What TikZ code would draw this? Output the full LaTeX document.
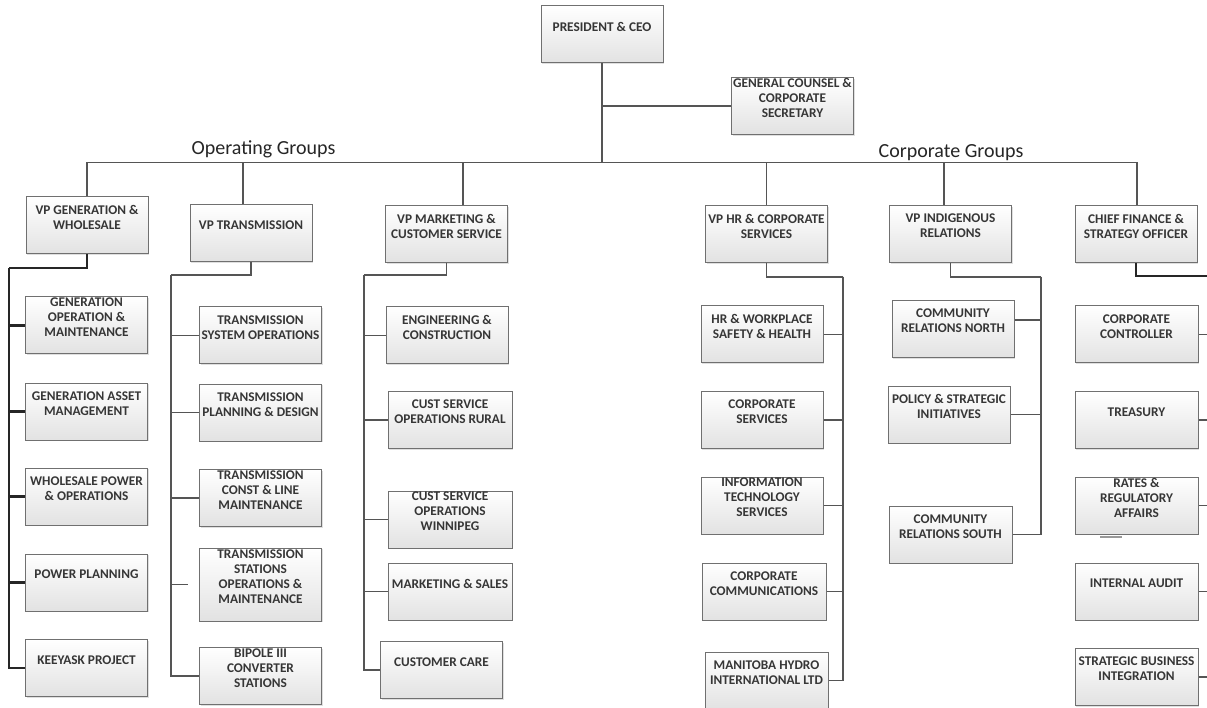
\documentclass[tikz,border=0pt]{standalone}
\usepackage{fontspec}
\setmainfont{Carlito}
\usetikzlibrary{shadows}

\definecolor{unitline}{HTML}{707070}
\definecolor{unitfill}{HTML}{E2E2E2}
\definecolor{unitink}{HTML}{363636}
\definecolor{wirecolor}{HTML}{555555}

\begin{document}
\begin{tikzpicture}[x=1pt, y=-1pt,
    wire/.style={draw=wirecolor, line width=1.5pt},
    heavywire/.style={draw=black!85, line width=2.2pt},
    unit/.style={draw=unitline, line width=1pt, top color=white, bottom color=unitfill,
        minimum width=122pt, minimum height=57pt, inner sep=0pt,
        drop shadow={shadow xshift=1.2pt, shadow yshift=-1.2pt, opacity=0.25},
        label={[unittext]center:{#1}}},
    unittext/.style={font=\bfseries\fontsize{13.3}{15}\selectfont, text=unitink,
        align=center, yshift=8pt, inner sep=0pt},
    group/.style={font=\fontsize{20}{23}\selectfont, text=black!85, anchor=base}]

    \fill[white] (0,0) rectangle (1207,708);
    \useasboundingbox (0,0) rectangle (1207,708);

    % top
    \node[unit={PRESIDENT \& CEO}]                              (ceo)   at (602,34.5)    {};
    \node[unit={GENERAL COUNSEL \&\\CORPORATE\\SECRETARY}]     (gc)    at (792.5,106)   {};
    \node[group] (opg) at (263.5,155) {Operating Groups};
    \node[group] (cpg) at (951,158)   {Corporate Groups};

    % vice presidents
    \node[unit={VP GENERATION \&\\WHOLESALE}]                  (vpgen) at (87,225.5)    {};
    \node[unit={VP TRANSMISSION}]                              (vptra) at (251,233)     {};
    \node[unit={VP MARKETING \&\\CUSTOMER SERVICE}]            (vpmkt) at (446.5,234)   {};
    \node[unit={VP HR \& CORPORATE\\SERVICES}]                 (vphr)  at (766.5,234)   {};
    \node[unit={VP INDIGENOUS\\RELATIONS}]                     (vpind) at (950.5,234)   {};
    \node[unit={CHIEF FINANCE \&\\STRATEGY OFFICER}]           (cfo)   at (1136,234)    {};

    % generation & wholesale
    \node[unit={GENERATION\\OPERATION \&\\MAINTENANCE}]        (gop)   at (86.5,325.5)  {};
    \node[unit={GENERATION ASSET\\MANAGEMENT}]                 (gam)   at (86.5,411.5)  {};
    \node[unit={WHOLESALE POWER\\\& OPERATIONS}]               (wpo)   at (86.5,496.5)  {};
    \node[unit={POWER PLANNING}]                               (pp)    at (86.5,582.5)  {};
    \node[unit={KEEYASK PROJECT}]                              (kp)    at (86.5,668)    {};

    % transmission
    \node[unit={TRANSMISSION\\SYSTEM OPERATIONS}]              (tso)   at (260.5,335.5) {};
    \node[unit={TRANSMISSION\\PLANNING \& DESIGN}]             (tpd)   at (260.5,412.5) {};
    \node[unit={TRANSMISSION\\CONST \& LINE\\MAINTENANCE}]     (tcl)   at (260.5,498)   {};
    \node[unit={TRANSMISSION\\STATIONS\\OPERATIONS \&\\MAINTENANCE},
          minimum height=73pt]                                 (tst)   at (260.5,584.5) {};
    \node[unit={BIPOLE III\\CONVERTER\\STATIONS}]              (bip)   at (260.5,676)   {};

    % marketing & customer service
    \node[unit={ENGINEERING \&\\CONSTRUCTION}]                 (eng)   at (447,335.5)   {};
    \node[unit={CUST SERVICE\\OPERATIONS RURAL}, minimum width=124pt] (csr) at (450,420)   {};
    \node[unit={CUST SERVICE\\OPERATIONS\\WINNIPEG}, minimum width=124pt] (csw) at (450,519.5) {};
    \node[unit={MARKETING \& SALES}, minimum width=124pt]      (mks)   at (450,591.5)   {};
    \node[unit={CUSTOMER CARE}]                                (cc)    at (441.5,670)   {};

    % hr & corporate services
    \node[unit={HR \& WORKPLACE\\SAFETY \& HEALTH}]            (hrw)   at (762,334.5)   {};
    \node[unit={CORPORATE\\SERVICES}]                          (cs)    at (762,420)     {};
    \node[unit={INFORMATION\\TECHNOLOGY\\SERVICES}]            (its)   at (762,505.5)   {};
    \node[unit={CORPORATE\\COMMUNICATIONS}, minimum width=124pt] (ccm) at (764,591.5)   {};
    \node[unit={MANITOBA HYDRO\\INTERNATIONAL LTD}, minimum width=123pt] (mhi) at (766.5,680.5) {};

    % indigenous relations
    \node[unit={COMMUNITY\\RELATIONS NORTH}]                   (crn)   at (953,329)     {};
    \node[unit={POLICY \& STRATEGIC\\INITIATIVES}]             (psi)   at (949,414.5)   {};
    \node[unit={COMMUNITY\\RELATIONS SOUTH}, minimum width=123pt] (crs) at (950.5,534.5) {};

    % finance & strategy
    \node[unit={CORPORATE\\CONTROLLER}, minimum width=123pt]   (ccl)   at (1136.5,334.5) {};
    \node[unit={TREASURY}, minimum width=123pt]                (tre)   at (1136.5,420)   {};
    \node[unit={RATES \&\\REGULATORY\\AFFAIRS}, minimum width=123pt] (rra) at (1136.5,505.5) {};
    \node[unit={INTERNAL AUDIT}, minimum width=123pt]          (ia)    at (1136.5,591.5) {};
    \node[unit={STRATEGIC BUSINESS\\INTEGRATION}, minimum width=123pt] (sbi) at (1136.5,677) {};

    % bus and drops
    \coordinate (busL) at (87,162.5);
    \coordinate (busR) at (1137,162.5);
    \draw[wire] (busL) -- (busR);
    \draw[wire] (ceo.south) -- (ceo.south |- busL);
    \draw[wire] (ceo.south |- gc.west) -- (gc.west);
    \foreach \v/\dx in {vpgen/0, vptra/-8, vpmkt/16.5, vphr/0, vpind/-6.5, cfo/1}
        \draw[wire] (busL) -| ([xshift=\dx pt]\v.north);

    % branches
    \coordinate (gentop) at (9,268);
    \draw[heavywire] (vpgen.south) |- (gentop);
    \foreach \u in {gop,gam,wpo,pp,kp}
        \draw[heavywire] (gentop) |- (\u.west);

    \coordinate (tratop) at (171,275);
    \coordinate (tstub)  at (188,584.5);
    \draw[wire] (vptra.south) |- (tratop);
    \foreach \u in {tso,tpd,tcl,bip}
        \draw[wire] (tratop) |- (\u.west);
    \draw[wire] (tratop) |- (tstub);

    \coordinate (mkttop) at (364,275);
    \draw[wire] (vpmkt.south) |- (mkttop);
    \foreach \u in {eng,csr,csw,mks,cc}
        \draw[wire] (mkttop) |- (\u.west);

    \coordinate (hrtop) at (843,277);
    \draw[wire] (vphr.south) |- (hrtop);
    \foreach \u in {hrw,cs,its,ccm,mhi}
        \draw[wire] (hrtop) |- (\u.east);

    \coordinate (indtop) at (1041,277);
    \draw[wire] (vpind.south) |- (indtop);
    \draw[wire] (indtop) |- ([yshift=9pt]crn.east);
    \foreach \u in {psi,crs}
        \draw[wire] (indtop) |- (\u.east);

    \coordinate (cfotop) at (1216,276);
    \draw[heavywire] (cfo.south) |- (cfotop);
    \foreach \u in {ccl,tre,rra,ia,sbi}
        \draw[wire] (cfotop) |- (\u.east);

    \draw[wirecolor!60, line width=2pt] (1100,537) -- (1122,537);
\end{tikzpicture}
\end{document}
